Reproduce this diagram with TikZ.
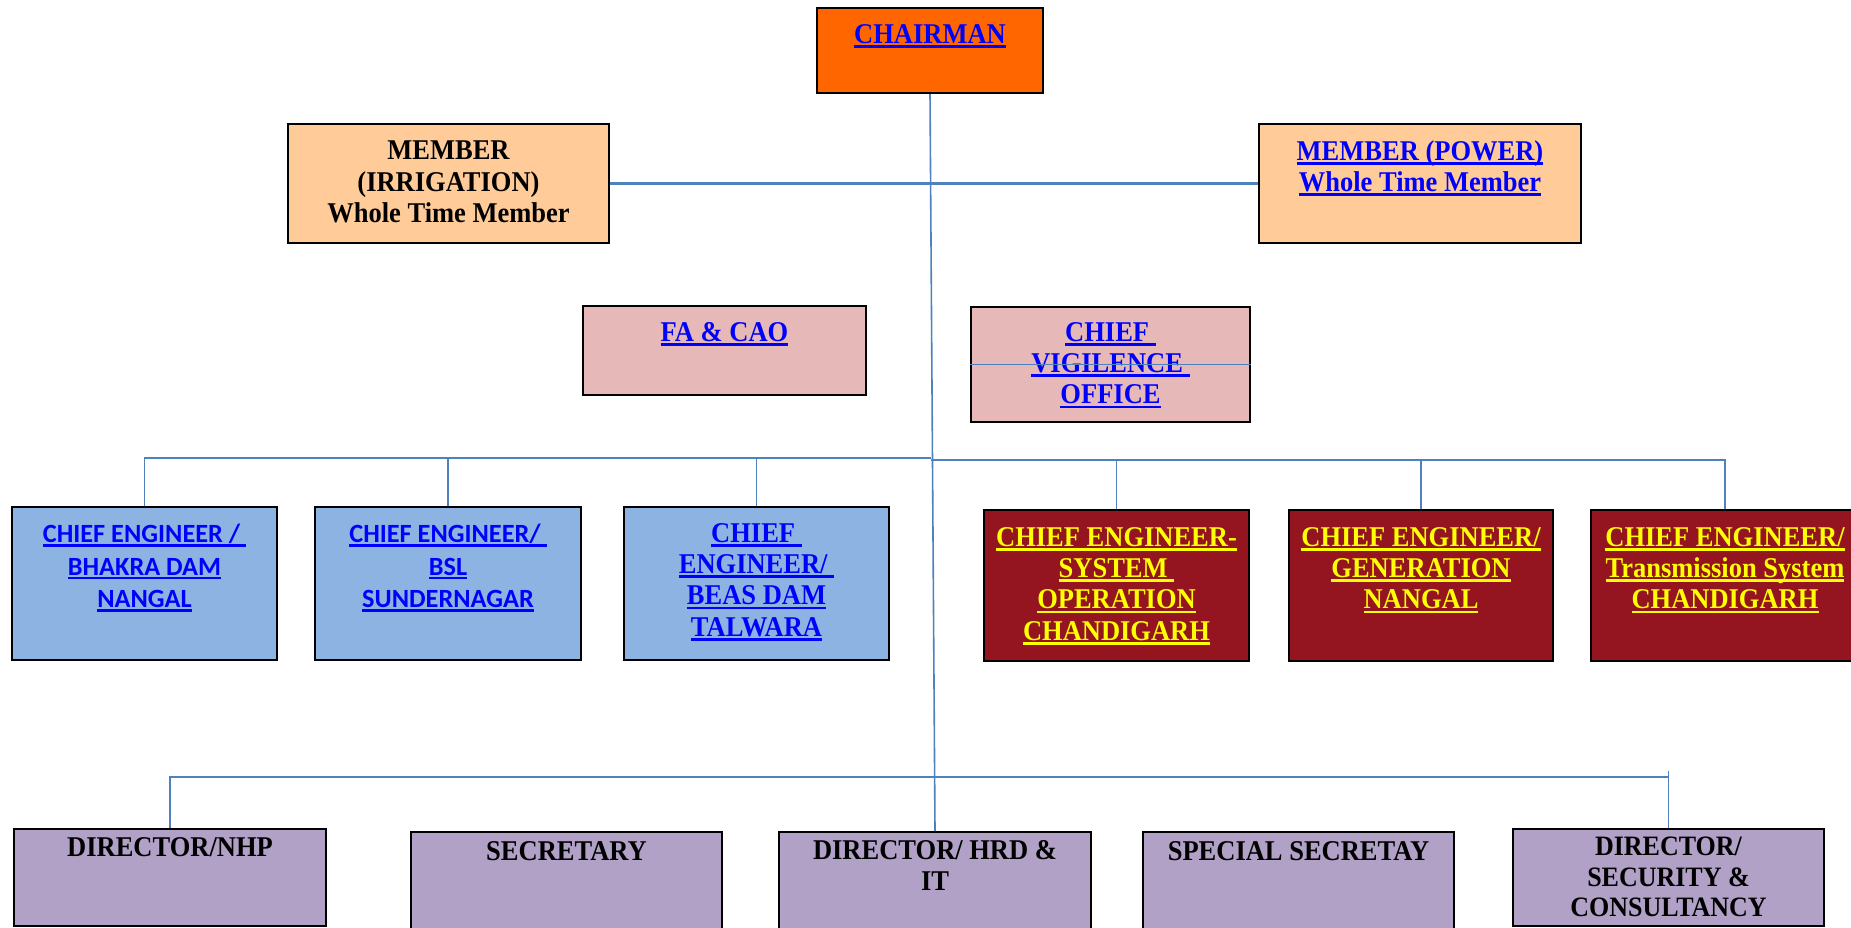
\documentclass[tikz,border=0pt]{standalone}
\usepackage{fontspec}
\setmainfont{Liberation Serif}
\newfontfamily\calibfont{Carlito}
\usetikzlibrary{positioning}

\definecolor{linkblue}{HTML}{4F81BD}
\definecolor{hyper}{HTML}{0000FF}
\definecolor{chairorange}{HTML}{FF6600}
\definecolor{peach}{HTML}{FFCC99}
\definecolor{rose}{HTML}{E6B8B7}
\definecolor{skyblue}{HTML}{8DB3E2}
\definecolor{maroon}{HTML}{941520}
\definecolor{lavender}{HTML}{B2A1C7}
\definecolor{lemon}{HTML}{FFFF00}

% underlined hyperlink text
\newcommand{\uln}[1]{\leavevmode\setbox0=\hbox{#1}\rlap{\rule[-4.2pt]{\wd0}{2.4pt}}\box0}

\begin{document}
\begin{tikzpicture}[x=1pt,y=-1pt,
  box/.style={draw=black,line width=2pt,anchor=north west,inner sep=0pt},
  link/.style={draw=linkblue,line width=1.6pt},
  serif/.style={inner sep=0pt,align=center,yscale=1.08,transform shape,font=\bfseries\fontsize{26.5}{29}\selectfont},
  sans/.style={inner sep=0pt,align=center,font=\calibfont\bfseries\fontsize{26.3}{32.5}\selectfont}]
\useasboundingbox (0,0) rectangle (1851,928);

% top level
\node[box,fill=chairorange,minimum width=226pt,minimum height=85pt] (chairman) at (816,7) {};
\node[serif,text=hyper,below=17pt of chairman.north] (chairmanT) {\uln{CHAIRMAN}};
\node[box,fill=peach,minimum width=321pt,minimum height=119pt] (irr) at (287,123) {};
\node[serif,below=18pt of irr.north] (irrT) {MEMBER\\(IRRIGATION)\\Whole Time Member};
\node[box,fill=peach,minimum width=322pt,minimum height=119pt] (pow) at (1258,123) {};
\node[serif,text=hyper,below=17pt of pow.north] (powT) {\uln{MEMBER (POWER)}\\\uln{Whole Time Member}};

% finance and vigilance
\node[box,fill=rose,minimum width=283pt,minimum height=89pt] (facao) at (582,305) {};
\node[serif,text=hyper,below=17pt of facao.north] (facaoT) {\uln{FA \& CAO}};
\node[box,fill=rose,minimum width=279pt,minimum height=115pt] (vig) at (970,306) {};
\node[serif,text=hyper,below=16pt of vig.north] (vigT) {\uln{CHIEF\ }\\\uln{VIGILENCE\ }\\\uln{OFFICE}};

% chief engineers
\node[box,fill=skyblue,minimum width=265pt,minimum height=153pt] (bhakra) at (11,506) {};
\node[sans,text=hyper,below=18pt of bhakra.north] (bhakraT) {\uln{CHIEF ENGINEER /\ }\\\uln{BHAKRA DAM}\\\uln{NANGAL}};
\node[box,fill=skyblue,minimum width=266pt,minimum height=153pt] (bsl) at (314,506) {};
\node[sans,text=hyper,below=18pt of bsl.north] (bslT) {\uln{CHIEF ENGINEER/\ }\\\uln{BSL}\\\uln{SUNDERNAGAR}};
\node[box,fill=skyblue,minimum width=265pt,minimum height=153pt] (beas) at (623,506) {};
\node[serif,text=hyper,below=17pt of beas.north] (beasT) {\uln{CHIEF\ }\\\uln{ENGINEER/\ }\\\uln{BEAS DAM}\\\uln{TALWARA}};
\node[box,fill=maroon,minimum width=265pt,minimum height=151pt] (sysop) at (983,509) {};
\node[serif,text=lemon,below=18pt of sysop.north] (sysopT) {\uln{CHIEF ENGINEER-}\\\uln{SYSTEM\ }\\\uln{OPERATION}\\\uln{CHANDIGARH}};
\node[box,fill=maroon,minimum width=264pt,minimum height=151pt] (gen) at (1288,509) {};
\node[serif,text=lemon,below=18pt of gen.north] (genT) {\uln{CHIEF ENGINEER/}\\\uln{GENERATION}\\\uln{NANGAL}};
\node[box,fill=maroon,minimum width=268pt,minimum height=151pt] (transm) at (1590,509) {};
\node[serif,text=lemon,below=18pt of transm.north] (transmT) {\uln{CHIEF ENGINEER/}\\\uln{Transmission System}\\\uln{CHANDIGARH}};

% directors
\node[box,fill=lavender,minimum width=312pt,minimum height=97pt] (nhp) at (13,828) {};
\node[serif,below=9pt of nhp.north] (nhpT) {DIRECTOR/NHP};
\node[box,fill=lavender,minimum width=311pt,minimum height=100pt] (secy) at (410,831) {};
\node[serif,below=10pt of secy.north] (secyT) {SECRETARY};
\node[box,fill=lavender,minimum width=312pt,minimum height=100pt] (hrd) at (778,831) {};
\node[serif,below=9pt of hrd.north] (hrdT) {DIRECTOR/ HRD \&\\IT};
\node[box,fill=lavender,minimum width=311pt,minimum height=100pt] (spl) at (1142,831) {};
\node[serif,below=10pt of spl.north] (splT) {SPECIAL SECRETAY};
\node[box,fill=lavender,minimum width=311pt,minimum height=97pt] (secur) at (1512,828) {};
\node[serif,font=\bfseries\fontsize{26}{28}\selectfont,below=9pt of secur.north] (securT) {DIRECTOR/\\SECURITY \&\\CONSULTANCY};

% connectors
\coordinate (hubL) at (931,458);
\coordinate (hubR) at (931,460);
\coordinate (busB) at (934,777);
\draw[link] (chairman.south) -- (hrd.north);
\draw[link,line width=2.4pt] (irr.east) -- (pow.west);
\draw[link] (vig.west) -- (vig.east);
\draw[link] (bhakra.north) |- (hubL);
\draw[link] (bsl.north) -- (bsl.north |- hubL);
\draw[link] (beas.north) -- (beas.north |- hubL);
\draw[link] (hubR) -| (transm.north);
\draw[link] (sysop.north) -- (sysop.north |- hubR);
\draw[link] (gen.north) -- (gen.north |- hubR);
\draw[link] (nhp.north) |- (busB) -| (secur.north);
\draw[link] (secur.north) -- ++(0,-57);
\end{tikzpicture}
\end{document}
